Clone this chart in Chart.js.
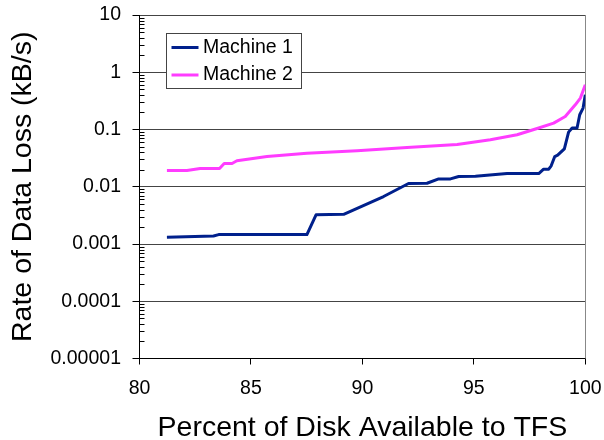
<!DOCTYPE html>
<html><head><meta charset="utf-8">
<script src="https://cdn.jsdelivr.net/npm/chart.js@4/dist/chart.umd.min.js"></script>
<style>html,body{margin:0;padding:0;background:#fff}canvas{display:block}</style>
</head><body>
<canvas id="c" width="604" height="440"></canvas>
<script>
const seriesNames = ['Machine 1', 'Machine 2'];
const machine1X = [81.23, 83.32, 83.55, 87.51, 87.92, 89.16, 90.95, 92.07, 92.9, 93.42, 93.95, 94.32, 95.07, 96.49, 97.91, 98.13, 98.36, 98.47, 98.63, 98.76, 99.06, 99.25, 99.41, 99.63, 99.75, 99.9, 100];
const machine1Y = [0.00131, 0.00138, 0.00146, 0.00146, 0.00323, 0.0033, 0.00675, 0.0114, 0.0115, 0.0137, 0.0137, 0.0151, 0.0152, 0.0170, 0.0170, 0.0203, 0.0203, 0.0232, 0.0337, 0.0356, 0.046, 0.090, 0.106, 0.106, 0.181, 0.237, 0.405];
const machine2X = [81.23, 82.13, 82.72, 83.59, 83.8, 84.15, 84.37, 85.72, 87.51, 89.76, 92.0, 94.25, 95.74, 96.94, 97.91, 98.58, 99.1, 99.55, 99.78, 100];
const machine2Y = [0.0192, 0.0192, 0.0208, 0.0208, 0.0255, 0.0255, 0.0284, 0.0337, 0.0386, 0.0425, 0.0484, 0.0547, 0.066, 0.0808, 0.106, 0.129, 0.169, 0.270, 0.354, 0.604];
const yTickValues = [0.00001, 0.0001, 0.001, 0.01, 0.1, 1, 10];
const yTickLabels = ['0.00001', '0.0001', '0.001', '0.01', '0.1', '1', '10'];
const xTickValues = [80, 85, 90, 95, 100];
const seriesColors = ['#00208c', '#ff3cff'];

const FONT = "'Liberation Sans', Arial, Helvetica, sans-serif";
Chart.defaults.font.family = FONT;

const toPoints = (xs, ys) => xs.map((x, i) => ({x: x, y: ys[i]}));
const zeroPad = s => { s.paddingLeft = 0; s.paddingRight = 0; s.paddingTop = 0; s.paddingBottom = 0; };

const decor = {
  id: 'decor',
  beforeDatasetsDraw(chart) {
    const {ctx, chartArea: a} = chart;
    ctx.save();
    ctx.strokeStyle = '#888';
    ctx.lineWidth = 1;
    const rx = Math.round(a.right) + 0.5;
    ctx.beginPath(); ctx.moveTo(rx, a.top); ctx.lineTo(rx, a.bottom); ctx.stroke();
    ctx.restore();
  },
  afterDraw(chart) {
    const {ctx, chartArea: a, scales: {y}} = chart;
    ctx.save();
    ctx.strokeStyle = '#000';
    ctx.lineWidth = 1;
    ctx.beginPath();
    const d0 = Math.round(Math.log10(y.min)), d1 = Math.round(Math.log10(y.max));
    for (let d = d0; d < d1; d++) {
      for (let k = 2; k < 10; k++) {
        const py = Math.round(y.getPixelForValue(k * Math.pow(10, d))) + 0.5;
        ctx.moveTo(a.left, py); ctx.lineTo(a.left + 5, py);
      }
    }
    ctx.stroke();
    const bx = Math.round(a.left + 26) + 0.5, by = Math.round(a.top + 17.5) + 0.5, bw = 135, bh = 55;
    ctx.fillStyle = '#fff';
    ctx.fillRect(bx, by, bw, bh);
    ctx.strokeStyle = '#444';
    ctx.strokeRect(bx, by, bw, bh);
    ctx.font = '19.5px ' + FONT;
    ctx.textBaseline = 'middle';
    ctx.textAlign = 'left';
    chart.data.datasets.forEach((ds, i) => {
      const ly = by + 14 + i * 27.5;
      ctx.strokeStyle = ds.borderColor;
      ctx.lineWidth = 3;
      ctx.beginPath(); ctx.moveTo(bx + 5, ly); ctx.lineTo(bx + 32, ly); ctx.stroke();
      ctx.fillStyle = '#000';
      ctx.fillText(ds.label, bx + 36.5, ly);
    });
    ctx.restore();
  }
};

new Chart(document.getElementById('c'), {
  type: 'line',
  data: {
    datasets: [
      {label: seriesNames[0], data: toPoints(machine1X, machine1Y), borderColor: seriesColors[0], backgroundColor: seriesColors[0], borderWidth: 3, pointRadius: 0, tension: 0, fill: false, borderJoinStyle: 'round'},
      {label: seriesNames[1], data: toPoints(machine2X, machine2Y), borderColor: seriesColors[1], backgroundColor: seriesColors[1], borderWidth: 3, pointRadius: 0, tension: 0, fill: false, borderJoinStyle: 'round'}
    ]
  },
  options: {
    responsive: false,
    animation: false,
    events: [],
    layout: {padding: {left: 0, right: 18.7, top: 15, bottom: 0}},
    plugins: {legend: {display: false}, tooltip: {enabled: false}},
    scales: {
      x: {
        type: 'linear', min: 80, max: 100,
        afterBuildTicks: s => { s.ticks = xTickValues.map(v => ({value: v})); },
        afterFit: s => { s.height = 81.5; zeroPad(s); },
        ticks: {font: {size: 19.5}, color: '#000', padding: 12, maxRotation: 0, autoSkip: false, callback: v => String(v)},
        grid: {drawOnChartArea: false, tickLength: 6, tickColor: '#000'},
        border: {color: '#000', width: 1},
        title: {display: true, text: 'Percent of Disk Available to TFS', color: '#000', font: {size: 28.5, lineHeight: 0.86}, padding: 0}
      },
      y: {
        type: 'logarithmic', min: 0.00001, max: 10,
        afterBuildTicks: s => { s.ticks = yTickValues.map(v => ({value: v, major: true})); },
        afterFit: s => { s.width = 139.5; zeroPad(s); },
        ticks: {font: {size: 19.5}, color: '#000', padding: 11.5, autoSkip: false, callback: (v, i) => yTickLabels[i]},
        grid: {color: '#444', tickLength: 7, tickColor: '#000'},
        border: {color: '#000', width: 1},
        title: {display: true, text: 'Rate of Data Loss (kB/s)', color: '#000', font: {size: 28.5, lineHeight: 1}, padding: {top: 9, bottom: 0}}
      }
    }
  },
  plugins: [decor]
});
</script>
</body></html>
